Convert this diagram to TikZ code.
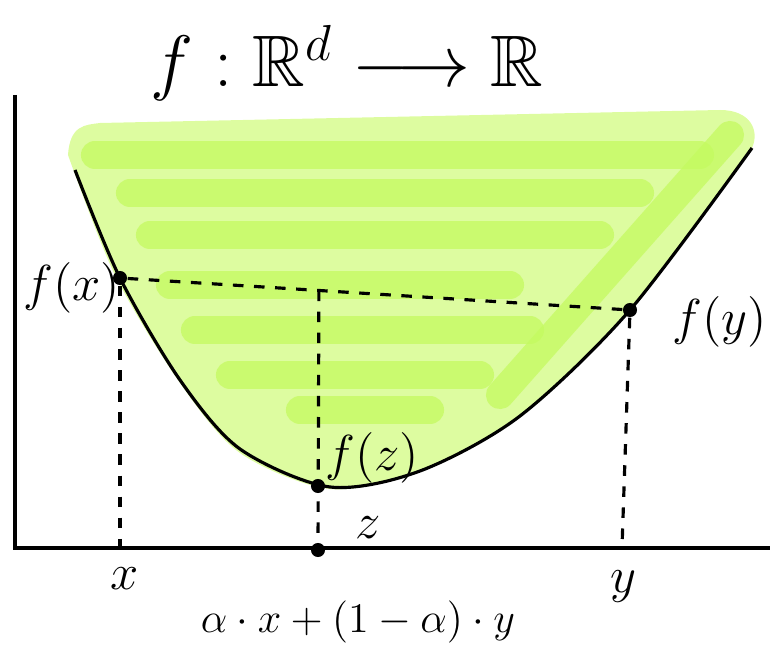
\documentclass[tikz,border=0pt]{standalone}
\usepackage{amsmath}
\usepackage{amssymb}
\usepackage{xcolor}
\usepackage{tikz}
\usetikzlibrary{positioning, calc}

\definecolor{epilight}{RGB}{221,252,160}
\definecolor{epidark}{RGB}{196,250,95}

\tikzset{
  axis/.style={line width=1.1pt},
  graphline/.style={line width=0.9pt},
  guide/.style={dashed, line width=0.9pt},
  scribble/.style={line width=8pt, line cap=round, epidark, opacity=0.75},
  dot/.style={circle, fill=black, inner sep=0pt, minimum size=4pt},
  lbl/.style={font=\Large}
}

\begin{document}
\begin{tikzpicture}
  \useasboundingbox (0,0) rectangle (7.7,6.55);

  % shaded epigraph
  \fill[epilight] (0.68,5.0) .. controls (0.7,5.3) and (0.85,5.3) .. (1.0,5.32)
    -- (7.2,5.45) .. controls (7.5,5.45) and (7.6,5.25) .. (7.52,5.07)
    plot[smooth] coordinates {(7.52,5.07) (6.3,3.45) (5.2,2.39) (4.2,1.84) (3.3,1.66) (2.4,2.02) (1.8,2.72) (1.15,3.8) (0.68,5.0)};
  \foreach \yy/\xa/\xb in {5.0/0.95/7.0, 4.62/1.3/6.4, 4.2/1.5/6.0, 3.7/1.7/5.1,
                           3.25/1.95/5.3, 2.8/2.3/4.8, 2.45/3.0/4.3}
    \draw[scribble] (\xa,\yy) -- (\xb,\yy);
  \draw[scribble] (7.3,5.2) -- (5.0,2.6);

  % axes
  \draw[axis] (0.15,5.6) -- (0.15,1.07) -- (7.7,1.07);

  % the function
  \draw[graphline] plot[smooth] coordinates {(0.75,4.85) (1.20,3.77) (1.8,2.75) (2.4,2.06) (3.3,1.68) (4.2,1.84) (5.2,2.39) (6.3,3.45) (7.52,5.07)};

  \node[dot] (fx) at (1.20,3.77) {};
  \node[dot] (fy) at (6.30,3.45) {};
  \node[dot] (fz) at (3.18,1.69) {};
  \node[dot] (z) at (3.18,1.05) {};
  \coordinate (x) at (1.20,1.07);
  \coordinate (y) at (6.22,1.07);
  \coordinate (c) at ($(fx)!0.39!(fy)$);

  \draw[guide] (fx) -- (fy);
  \draw[guide] (fx) -- (x);
  \draw[guide] (fy) -- (y);
  \draw[guide] (c) -- (z);

  % labels
  \node[lbl] (title) at (3.47,5.92) {\huge$f : \mathbb{R}^d \longrightarrow \mathbb{R}$};
  \node[lbl] (lfx) at (0.72,3.67) {$f(x)$};
  \node[lbl] (lfy) at (7.2,3.33) {$f(y)$};
  \node[lbl] (lfz) at (3.72,1.97) {$f(z)$};
  \node[lbl] (lz) at (3.68,1.27) {$z$};
  \node[lbl] (lx) at (1.25,0.76) {$x$};
  \node[lbl] (ly) at (6.23,0.68) {$y$};
  \node[font=\large] (comb) at (3.58,0.33) {$\alpha\cdot x + (1-\alpha)\cdot y$};
\end{tikzpicture}
\end{document}
